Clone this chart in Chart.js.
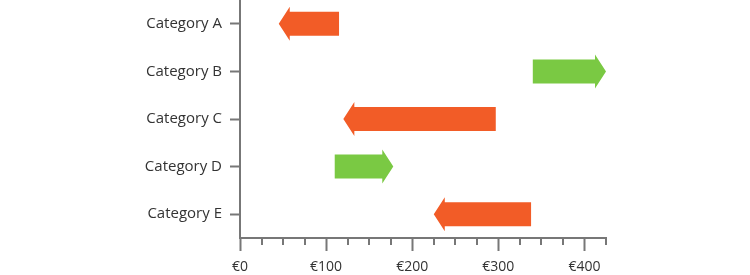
<!DOCTYPE html>
<html>
<head>
<meta charset="utf-8">
<script src="https://cdn.jsdelivr.net/npm/chart.js@4/dist/chart.umd.min.js"></script>
<style>
  html, body { margin: 0; padding: 0; background: #fff; }
  #wrap { width: 750px; height: 275px; position: relative; }
</style>
</head>
<body>
<div id="wrap"><canvas id="arrowChart"></canvas></div>
<script>
// ==== Données
const categories = ["Category A", "Category B", "Category C", "Category D", "Category E"];
const startValues = [115, 340, 297, 110, 338];
const endValues = [45, 425, 120, 178, 225];
const xTickValues = [0, 100, 200, 300, 400];

const UP_COLOR = "#7ac943";
const DOWN_COLOR = "#f25c27";
const AXIS_COLOR = "#777777";
const TEXT_COLOR = "#333333";

// ==== Plugin : flèches dessinées depuis les échelles
const arrowPlugin = {
  id: "arrows",
  afterDatasetsDraw(chart) {
    const ctx = chart.ctx;
    const xScale = chart.scales.x;
    const meta = chart.getDatasetMeta(0);
    meta.data.forEach((bar, i) => {
      const y = bar.y;
      const half = 12;
      const headHalf = 17;
      const headLen = 11;
      const xs = xScale.getPixelForValue(startValues[i]);
      const xe = xScale.getPixelForValue(endValues[i]);
      const dir = xe > xs ? 1 : -1;
      const hb = xe - dir * headLen;
      ctx.save();
      ctx.fillStyle = dir > 0 ? UP_COLOR : DOWN_COLOR;
      ctx.beginPath();
      ctx.moveTo(xs, y - half);
      ctx.lineTo(hb, y - half);
      ctx.lineTo(hb, y - headHalf);
      ctx.lineTo(xe, y);
      ctx.lineTo(hb, y + headHalf);
      ctx.lineTo(hb, y + half);
      ctx.lineTo(xs, y + half);
      ctx.closePath();
      ctx.fill();
      ctx.restore();
    });
  },
  // petits traits secondaires tous les 25
  afterDraw(chart) {
    const ctx = chart.ctx;
    const xScale = chart.scales.x;
    const yb = chart.chartArea.bottom;
    ctx.save();
    ctx.strokeStyle = AXIS_COLOR;
    ctx.lineWidth = 2;
    xScale.ticks.forEach(t => {
      if (t.value % 100 === 0) return;
      const px = Math.round(xScale.getPixelForValue(t.value));
      ctx.beginPath();
      ctx.moveTo(px, yb);
      ctx.lineTo(px, yb + 7);
      ctx.stroke();
    });
    ctx.restore();
  }
};

const ctx = document.getElementById("arrowChart").getContext("2d");
new Chart(ctx, {
  type: "bar",
  data: {
    labels: categories,
    datasets: [{
      data: startValues.map((s, i) => [s, endValues[i]]),
      backgroundColor: "rgba(0,0,0,0)",
      barThickness: 24,
    }],
  },
  options: {
    indexAxis: "y",
    responsive: true,
    maintainAspectRatio: false,
    animation: false,
    layout: { padding: { top: 0, right: 144, bottom: 0, left: 0 } },
    plugins: { legend: { display: false }, tooltip: { enabled: false } },
    scales: {
      x: {
        min: 0,
        max: 425,
        afterFit(scale) {
          scale.height = 37;
          scale.paddingLeft = 0;
          scale.paddingRight = 0;
        },
        border: { color: AXIS_COLOR, width: 2 },
        grid: {
          drawOnChartArea: false,
          tickLength: 13,
          tickWidth: 2,
          tickColor: c => (c.tick && xTickValues.includes(c.tick.value)) ? AXIS_COLOR : "rgba(0,0,0,0)",
        },
        ticks: {
          stepSize: 25,
          autoSkip: false,
          maxRotation: 0,
          padding: 8,
          color: TEXT_COLOR,
          font: { family: "Open Sans", size: 14 },
          callback: v => xTickValues.includes(v) ? "€" + v : "",
        },
      },
      y: {
        afterFit(scale) {
          scale.width = 240;
          scale.paddingTop = 0;
          scale.paddingBottom = 0;
        },
        border: { color: AXIS_COLOR, width: 2 },
        grid: {
          drawOnChartArea: false,
          offset: false,
          tickLength: 10,
          tickWidth: 2,
          color: AXIS_COLOR,
        },
        ticks: {
          padding: 8,
          color: TEXT_COLOR,
          font: { family: "Open Sans", size: 15 },
        },
      },
    },
  },
  plugins: [arrowPlugin],
});
</script>
</body>
</html>
